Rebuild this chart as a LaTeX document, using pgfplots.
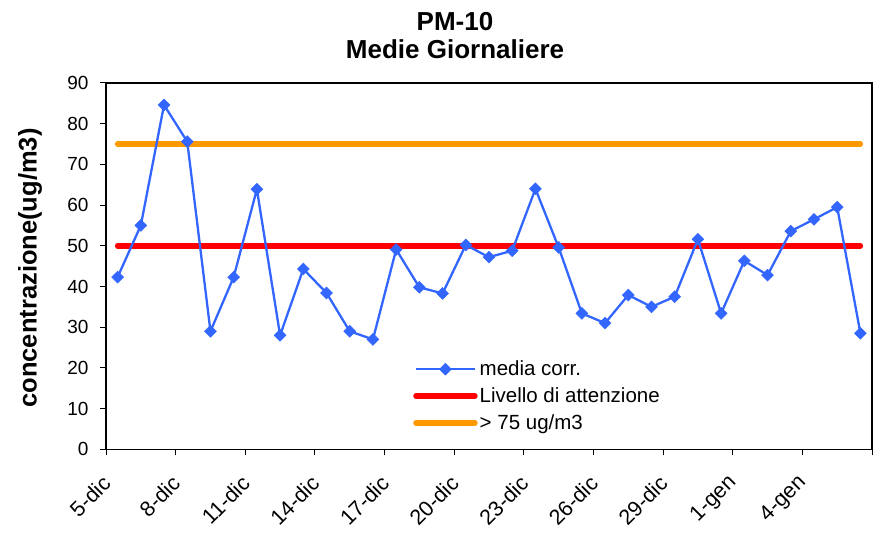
\documentclass[border=0pt]{standalone}
\usepackage{pgfplots}
\pgfplotsset{compat=1.18}
\usepackage{fontspec}
\setmainfont{Liberation Sans}
\definecolor{serieblue}{RGB}{51,102,255}
\definecolor{attred}{RGB}{255,0,0}
\definecolor{throrange}{RGB}{255,153,0}
\pgfplotstableread{
x y
0 42.3
1 55.0
2 84.6
3 75.6
4 29.0
5 42.3
6 63.9
7 28.0
8 44.3
9 38.4
10 29.0
11 27.0
12 49.1
13 39.8
14 38.3
15 50.2
16 47.2
17 48.8
18 64.0
19 49.6
20 33.4
21 31.0
22 37.9
23 35.0
24 37.5
25 51.6
26 33.4
27 46.3
28 42.8
29 53.6
30 56.5
31 59.5
32 28.5
}\media
\begin{document}
\begin{tikzpicture}[x=1pt,y=1pt]
\path[use as bounding box] (0,0) rectangle (874,534);
\begin{axis}[
  at={(106pt,84.7pt)}, anchor=south west,
  width=766pt, height=366.3pt, scale only axis,
  xmin=-0.5, xmax=32.5, ymin=0, ymax=90,
  axis line style={black, line width=1.5pt},
  tick align=outside, tick pos=left,
  major tick length=6pt,
  tick style={black, line width=1pt},
  xtick={-0.5,2.5,5.5,8.5,11.5,14.5,17.5,20.5,23.5,26.5,29.5,32.5},
  xticklabels={5-dic,8-dic,11-dic,14-dic,17-dic,20-dic,23-dic,26-dic,29-dic,1-gen,4-gen,},
  ytick={0,10,...,90},
  /pgf/number format/assume math mode=true,
  yticklabel style={font=\fontsize{19}{22}\selectfont, xshift=-8pt},
  xticklabel style={font=\fontsize{21.5}{24}\selectfont, xshift=3pt, yshift=-22pt, rotate=45, anchor=east},
  legend style={draw=none, fill=none, at={(0.4008,0.247)}, anchor=north west,
    inner sep=0pt, font=\fontsize{20.5}{24}\selectfont, row sep=6.5pt},
  legend cell align=left,
  legend image code/.code={\draw[mark repeat=2,mark phase=2] plot coordinates {(0pt,0pt) (29.5pt,0pt) (59pt,0pt)};},
]
\addplot[attred, line width=5.5pt, line cap=round, forget plot] coordinates {(0,50) (32,50)};
\addplot[throrange, line width=5.5pt, line cap=round, forget plot] coordinates {(0,75) (32,75)};
\addplot[serieblue, line width=2.3pt, mark=square*, mark size=4.2pt,
  mark options={solid, rotate=45, fill=serieblue, line width=0.5pt}] table[x=x,y=y] {\media};
\addlegendentry{media corr.}
\addlegendimage{attred, line width=5.5pt, line cap=round}
\addlegendentry{Livello di attenzione}
\addlegendimage{throrange, line width=5.5pt, line cap=round}
\addlegendentry{> 75 ug/m3}
\end{axis}
\node[font=\bfseries\fontsize{26}{30}\selectfont, anchor=base] at (455,503) {PM-10};
\node[font=\bfseries\fontsize{26}{30}\selectfont, anchor=base] at (455,475) {Medie Giornaliere};
\node[rotate=90, font=\bfseries\fontsize{25.5}{30}\selectfont] at (30,266) {concentrazione(ug/m3)};
\end{tikzpicture}
\end{document}
